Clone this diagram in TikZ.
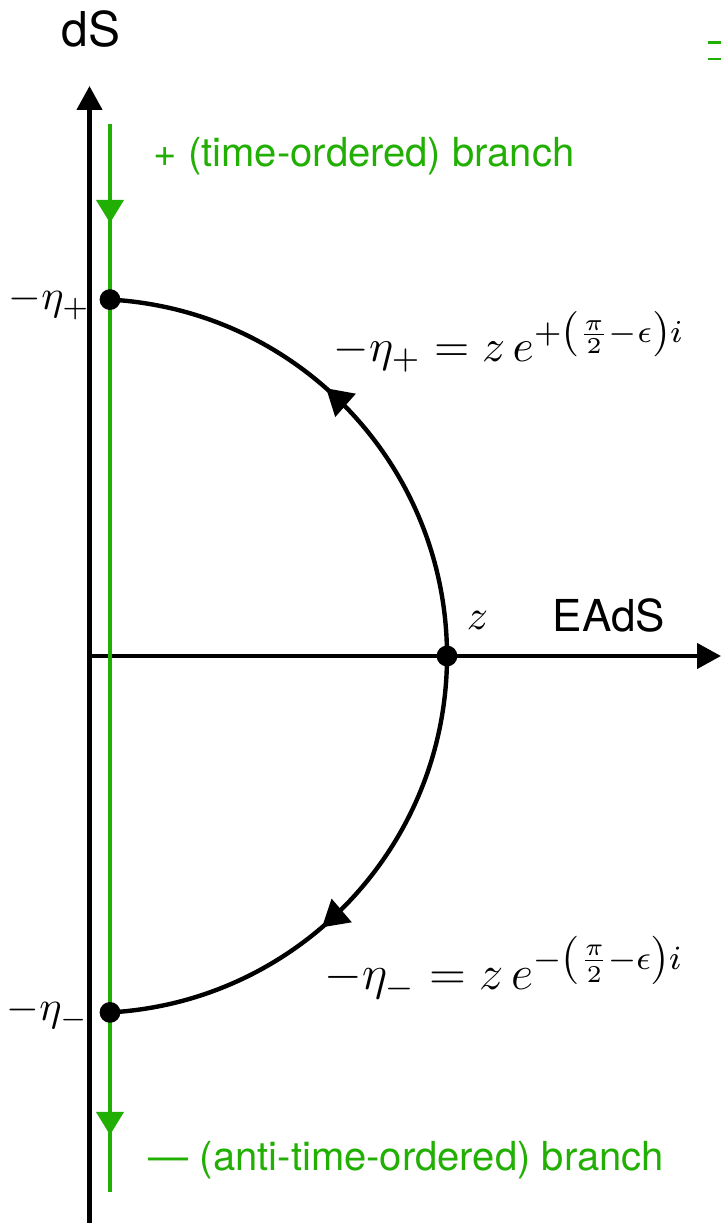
\RequirePackage{fix-cm}
\documentclass[tikz,border=0pt]{standalone}
\usepackage[no-math]{fontspec}
\setmainfont{TeX Gyre Heros}
\usetikzlibrary{arrows.meta,decorations.markings}
\definecolor{branchgreen}{RGB}{34,175,4}
\tikzset{
  axisline/.style={line width=1.1pt,-{Triangle[length=6pt,width=6.25pt]}},
  greenline/.style={draw=branchgreen,line width=1pt,
    postaction={decorate,decoration={markings,
      mark=at position 0.0927 with {\arrow[branchgreen]{Triangle[length=5.75pt,width=6.75pt]}},
      mark=at position 0.9466 with {\arrow[branchgreen]{Triangle[length=5.75pt,width=6.75pt]}}}}},
  arcline/.style={line width=1.1pt},
  arcarrow/.style={postaction={decorate,decoration={markings,
      mark=at position #1 with {\arrow{Triangle[length=6.5pt,width=7.5pt]}}}}},
  dot/.style={circle,fill=black,inner sep=0pt,minimum size=5.2pt},
  lbl/.style={inner sep=0pt,anchor=base west},
  mathlbl/.style={lbl,font=\fontsize{10.5}{12}\selectfont},
  greentext/.style={lbl,text=branchgreen,font=\fontsize{10}{12}\selectfont},
}
\begin{document}
\begin{tikzpicture}[x=0.25pt,y=0.25pt]
\useasboundingbox (0,0) rectangle (721,1223);
% axes
\coordinate (vbot) at (89.5,0);
\coordinate (vtop) at (89.5,1137);
\coordinate (O) at (89.5,567);
\coordinate (hend) at (721,567);
\draw[axisline] (vbot) -- (vtop);
\draw[axisline] (O) -- (hend);
% green branch
\coordinate (gtop) at (110,1099);
\coordinate (gbot) at (110,31);
\draw[greenline] (gtop) -- (gbot);
% points
\node[dot] (z) at (447,567) {};
\node[dot] (ep) at (110,923.4) {};
\node[dot] (em) at (110,210.6) {};
% arcs
\draw[arcline,arcarrow=0.56] (z.center) arc[start angle=0,end angle=86.8,radius=89.25pt];
\draw[arcline,arcarrow=0.57] (z.center) arc[start angle=0,end angle=-86.8,radius=89.25pt];
% labels
\node[lbl,font=\fontsize{12}{14}\selectfont] (dS) at (61,1176) {dS};
\node[lbl,font=\fontsize{11}{13}\selectfont] (EAdS) at (552,591) {EAdS};
\node[mathlbl] (zl) at (466,593) {$z$};
\node[mathlbl] (epl) at (8,913) {$-\eta_+$};
\node[mathlbl] (eml) at (6,202) {$-\eta_-$};
\node[mathlbl,font=\fontsize{11.35}{13}\selectfont] (epeq) at (333,861) {$-\eta_+ = z\,e^{+\left(\frac{\pi}{2}-\epsilon\right)i}$};
\node[mathlbl,font=\fontsize{12.1}{14}\selectfont] (emeq) at (324,233) {$-\eta_- = z\,e^{-\left(\frac{\pi}{2}-\epsilon\right)i}$};
\node[greentext] (tplus) at (153,1056) {+ (time-ordered) branch};
\node[greentext] (tminus) at (148,52) {— (anti-time-ordered) branch};
% cut-off fragment at top right
\draw[branchgreen,line width=0.6pt] (708,1180.3) -- (721,1180.3);
\draw[branchgreen,line width=0.6pt] (708,1163.7) -- (721,1163.7);
\end{tikzpicture}
\end{document}
